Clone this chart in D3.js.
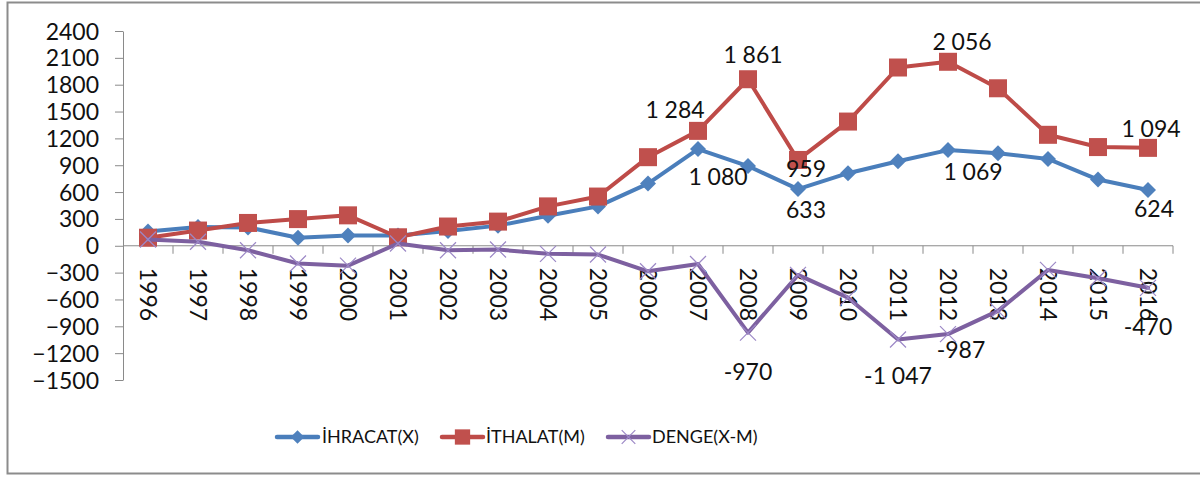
<!DOCTYPE html>
<html>
<head>
<meta charset="utf-8">
<script src="https://cdn.jsdelivr.net/npm/d3@7/dist/d3.min.js"></script>
<style>
  html, body { margin: 0; padding: 0; background: #fff; }
  svg { display: block; }
  text { font-family: Lato, "Open Sans", sans-serif; fill: #111; }
</style>
</head>
<body>
<svg id="chart" width="1200" height="477"></svg>
<script>
// ---- data ----
const years = ["1996","1997","1998","1999","2000","2001","2002","2003","2004","2005","2006",
               "2007","2008","2009","2010","2011","2012","2013","2014","2015","2016"];
const ihracat = [160, 210, 205, 90, 115, 115, 165, 225, 335, 440, 695,
                 1080, 891, 633, 811, 945, 1069, 1035, 970, 740, 624];
const ithalat = [90, 170, 255, 298, 340, 95, 215, 270, 440, 550, 990,
                 1284, 1861, 959, 1388, 1992, 2056, 1760, 1240, 1103, 1094];
const denge   = [70, 45, -50, -198, -222, 25, -50, -42, -90, -98, -285,
                 -204, -970, -326, -580, -1047, -987, -728, -270, -363, -470];
const yTicks = [-1500, -1200, -900, -600, -300, 0, 300, 600, 900, 1200, 1500, 1800, 2100, 2400];
const seriesNames = ["İHRACAT(X)", "İTHALAT(M)", "DENGE(X-M)"];

// data labels: which series / year gets a value label (placement offsets relative to the point)
const dataLabels = [
  {s: 1, year: "2007", dx: -23, dy: -13},
  {s: 1, year: "2008", dx: 5,   dy: -16},
  {s: 1, year: "2009", dx: 8,   dy: 17},
  {s: 1, year: "2012", dx: 14,  dy: -12},
  {s: 1, year: "2016", dx: 3,   dy: -11},
  {s: 0, year: "2007", dx: 20,  dy: 36},
  {s: 0, year: "2009", dx: 8,   dy: 29},
  {s: 0, year: "2012", dx: 25,  dy: 30},
  {s: 0, year: "2016", dx: 6,   dy: 27},
  {s: 2, year: "2008", dx: 0,   dy: 47},
  {s: 2, year: "2011", dx: 0,   dy: 45},
  {s: 2, year: "2012", dx: 13,  dy: 24},
  {s: 2, year: "2016", dx: 0,   dy: 47}
];

// ---- setup ----
const svg = d3.select("#chart");
const W = 1200, H = 477;
const plot = {left: 123, right: 1173, top: 31, bottom: 380};

const x = d3.scaleBand().domain(years).range([plot.left, plot.right]);
const cx = d => x(d) + x.bandwidth() / 2;
const y = d3.scaleLinear().domain([-1500, 2400]).range([plot.bottom, plot.top]);

const fmtLabel = d3.formatLocale({decimal: ",", thousands: " ", grouping: [3], currency: ["", ""], minus: "-"}).format(",d");

const axisColor = "#8a8a8a";

// outer chart border
svg.append("path")
  .attr("d", `M${W + 5},2.5 H7.5 V473.5 H${W + 5}`)
  .attr("fill", "none").attr("stroke", "#8c8c8c").attr("stroke-width", 2);

// y axis
const yAxis = d3.axisLeft(y).tickValues(yTicks).tickSize(8).tickSizeOuter(0).tickFormat(d3.format("d"));
const gy = svg.append("g").attr("transform", `translate(${plot.left},0)`).call(yAxis);
gy.select(".domain").attr("stroke", axisColor);
gy.selectAll(".tick line").attr("stroke", axisColor);
gy.selectAll(".tick text")
  .attr("x", -24).attr("dy", "0.35em")
  .style("font-family", "Lato, sans-serif").style("font-size", "23px").attr("fill", "#111");

// x axis at zero
const gx = svg.append("g").attr("transform", `translate(0,${y(0)})`);
gx.append("line").attr("x1", plot.left).attr("x2", plot.right)
  .attr("stroke", axisColor).attr("stroke-width", 1);
const boundaries = years.map(d => x(d) + x.bandwidth());
gx.selectAll("line.tk").data(boundaries).join("line").attr("class", "tk")
  .attr("x1", d => d).attr("x2", d => d).attr("y1", 0).attr("y2", 8)
  .attr("stroke", axisColor);
gx.selectAll("text.yr").data(years).join("text").attr("class", "yr")
  .attr("transform", d => `translate(${cx(d)},${22}) rotate(90)`)
  .attr("text-anchor", "start").attr("dy", "0.35em")
  .style("font-size", "23px")
  .text(d => d);

// ---- series ----
const colors = ["#4A7EBB", "#BE4B48", "#7D60A0"];
const markerFill = ["#4F81BD", "#C0504D", "#9C88C6"];
const allSeries = [ihracat, ithalat, denge];

const line = d3.line().x((d, i) => cx(years[i])).y(d => y(d));

function drawMarker(g, type, px, py, s) {
  if (type === 0) {
    const r = 8 * s;
    g.append("path").attr("d", `M${px},${py - r}L${px + r},${py}L${px},${py + r}L${px - r},${py}Z`)
      .attr("fill", markerFill[0]);
  } else if (type === 1) {
    const h = 9 * s;
    g.append("rect").attr("x", px - h).attr("y", py - h).attr("width", 2 * h).attr("height", 2 * h)
      .attr("fill", markerFill[1]);
  } else {
    const r = 8 * s;
    g.append("path").attr("d", `M${px - r},${py - r}L${px + r},${py + r}M${px - r},${py + r}L${px + r},${py - r}`)
      .attr("stroke", markerFill[2]).attr("stroke-width", 1.2).attr("fill", "none");
  }
}

allSeries.forEach((vals, si) => {
  const g = svg.append("g");
  g.append("path").datum(vals).attr("d", line)
    .attr("fill", "none").attr("stroke", colors[si]).attr("stroke-width", 4)
    .attr("stroke-linejoin", "round").attr("stroke-linecap", "round");
  vals.forEach((v, i) => drawMarker(g, si, cx(years[i]), y(v), 1));
});

// data labels
const gl = svg.append("g");
dataLabels.forEach(l => {
  const i = years.indexOf(l.year);
  const v = allSeries[l.s][i];
  gl.append("text")
    .attr("x", cx(l.year) + l.dx).attr("y", y(v) + l.dy)
    .attr("text-anchor", "middle")
    .style("font-size", "23px")
    .text(fmtLabel(v));
});

// ---- legend ----
const legendItems = [
  {lx: 277, tx: 322},
  {lx: 442, tx: 486},
  {lx: 608, tx: 652}
];
const ly = 437;
const lg = svg.append("g");
legendItems.forEach((it, si) => {
  lg.append("line").attr("x1", it.lx).attr("x2", it.lx + 41).attr("y1", ly).attr("y2", ly)
    .attr("stroke", colors[si]).attr("stroke-width", 4.5).attr("stroke-linecap", "round");
  drawMarker(lg, si, it.lx + 20.5, ly, 0.85);
  lg.append("text").attr("x", it.tx).attr("y", ly).attr("dy", "0.36em")
    .style("font-size", "18px").text(seriesNames[si]);
});
</script>
</body>
</html>
